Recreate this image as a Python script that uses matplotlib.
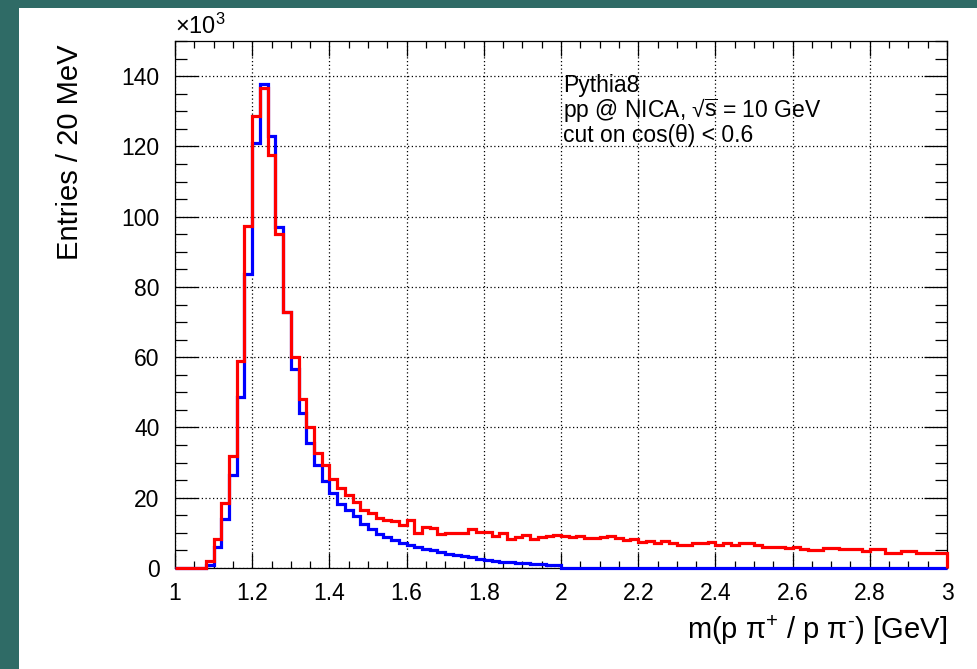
import numpy as np
import matplotlib
matplotlib.use("Agg")
import matplotlib.pyplot as plt
from matplotlib.patches import Rectangle
from matplotlib.ticker import MultipleLocator, FuncFormatter

plt.rcParams['font.family'] = ['Liberation Sans', 'DejaVu Sans']
plt.rcParams['mathtext.fontset'] = 'custom'
plt.rcParams['mathtext.rm'] = 'Liberation Sans'
plt.rcParams['mathtext.it'] = 'Liberation Sans:italic'
plt.rcParams['mathtext.bf'] = 'Liberation Sans:bold'

# ---- data (entries per 20 MeV bin, in units of 10^3) ----
x_min, x_max, n_bins = 1.0, 3.0, 100

red_counts = [
    0, 0, 0, 0, 2.0, 8.3, 18.4, 32.0, 59.0, 97.3,
    128.6, 136.7, 117.6, 95.0, 73.0, 60.0, 48.0, 40.0, 32.6, 29.4,
    25.4, 22.7, 20.7, 18.7, 16.6, 15.6, 14.2, 13.8, 13.3, 12.2,
    13.6, 10.0, 11.8, 11.4, 9.8, 10.1, 10.1, 10.1, 11.1, 10.3,
    10.3, 9.2, 9.9, 8.2, 8.7, 9.4, 8.2, 8.9, 9.2, 9.4,
    9.0, 8.7, 9.0, 8.5, 8.5, 8.7, 9.0, 8.4, 7.9, 8.2,
    7.5, 7.7, 7.2, 7.7, 7.2, 6.6, 6.6, 7.0, 7.0, 7.4,
    6.5, 7.1, 6.5, 7.0, 7.0, 6.5, 6.1, 6.1, 6.1, 5.8,
    6.1, 5.5, 5.1, 5.1, 5.8, 5.8, 5.3, 5.3, 5.3, 4.8,
    5.3, 5.3, 4.3, 4.3, 4.8, 4.8, 4.3, 4.3, 4.3, 4.3,
]

blue_counts = [
    0, 0, 0, 0, 0.8, 6.0, 14.0, 26.5, 48.7, 83.8,
    121.1, 137.8, 123.0, 97.0, 73.0, 56.6, 44.2, 35.7, 29.4, 24.9,
    21.4, 18.2, 16.4, 14.7, 12.6, 11.2, 9.6, 8.7, 8.0, 7.2,
    6.6, 6.0, 5.5, 5.0, 4.5, 4.1, 3.8, 3.4, 3.0, 2.6,
    2.3, 2.0, 1.8, 1.6, 1.4, 1.3, 1.2, 1.0, 0.9, 0.8,
    0, 0, 0, 0, 0, 0, 0, 0, 0, 0,
    0, 0, 0, 0, 0, 0, 0, 0, 0, 0,
    0, 0, 0, 0, 0, 0, 0, 0, 0, 0,
    0, 0, 0, 0, 0, 0, 0, 0, 0, 0,
    0, 0, 0, 0, 0, 0, 0, 0, 0, 0,
]

annotation_lines = ["Pythia8", r"pp @ NICA, √$\overline{\mathrm{s}}$ = 10 GeV", "cut on cos(θ) < 0.6"]
x_label = "m(p π$^{+}$ / p π$^{\u2010}$) [GeV]"
y_label = "Entries / 20 MeV"

edges = np.linspace(x_min, x_max, n_bins + 1)

W, H = 977, 669
fig = plt.figure(figsize=(W / 100, H / 100), dpi=100, facecolor='#2f6b66')
fig.add_artist(Rectangle((19 / W, 0), 1, (H - 8) / H, transform=fig.transFigure,
                         facecolor='white', edgecolor='none', zorder=-10))

ax = fig.add_axes([175 / W, (H - 568) / H, (947 - 175) / W, (568 - 41) / H])
ax.set_facecolor('white')

ax.stairs(blue_counts, edges, baseline=0, color='#0000ff', linewidth=2.3, zorder=3, clip_on=False)
ax.stairs(red_counts, edges, baseline=0, color='#ff0000', linewidth=2.3, zorder=4, clip_on=False)

ax.set_xlim(x_min, x_max)
ax.set_ylim(0, 150)

ax.xaxis.set_major_locator(MultipleLocator(0.2))
ax.xaxis.set_minor_locator(MultipleLocator(0.05))
ax.yaxis.set_major_locator(MultipleLocator(20))
ax.yaxis.set_minor_locator(MultipleLocator(5))
ax.xaxis.set_major_formatter(FuncFormatter(lambda v, p: f"{v:g}"))
ax.yaxis.set_major_formatter(FuncFormatter(lambda v, p: f"{v:g}"))

ax.grid(True, which='major', color='black', linestyle=(0, (1, 2)), linewidth=0.9, zorder=1)
ax.set_axisbelow(True)

ax.tick_params(which='both', direction='in', top=True, right=True, width=0.9,
               labelsize=16.5, colors='black')
ax.xaxis.set_tick_params(which='major', length=10.8, pad=10)
ax.xaxis.set_tick_params(which='minor', length=5)
ax.yaxis.set_tick_params(which='major', length=16.5, pad=11)
ax.yaxis.set_tick_params(which='minor', length=8.6)
for s in ax.spines.values():
    s.set_linewidth(0.9)

# axis labels (ROOT style, right/top aligned)
fig.text(947 / W, 1 - 630 / H, x_label, ha='right', va='center', fontsize=21)
fig.text(70 / W, 1 - 45 / H, y_label, ha='center', va='top', rotation=90, fontsize=21)
fig.text(175 / W, 1 - 34 / H, r"$\times$10$^{3}$", ha='left', va='baseline', fontsize=17)

baselines = [92, 117, 142]
for line, b in zip(annotation_lines, baselines):
    fig.text(563 / W, 1 - b / H, line, ha='left', va='baseline', fontsize=16.5)

fig.savefig("out.png", dpi=100, facecolor=fig.get_facecolor())
